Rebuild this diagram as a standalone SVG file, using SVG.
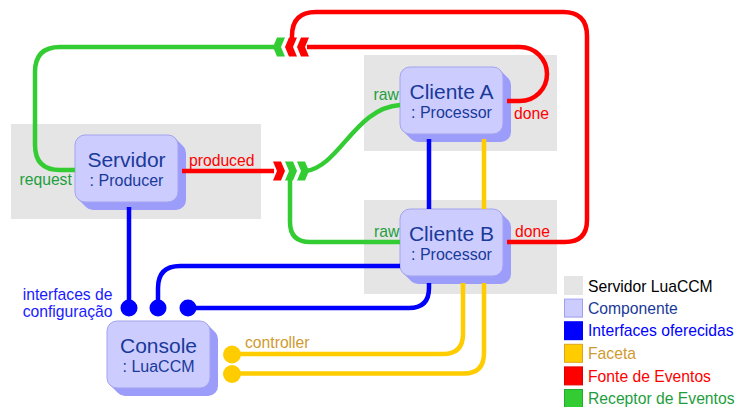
<svg xmlns="http://www.w3.org/2000/svg" xmlns:xlink="http://www.w3.org/1999/xlink" width="737" height="407" viewBox="0 0 737 407">
<style>
text{font-family:"Liberation Sans",Arial,sans-serif}
.region{fill:#e5e5e5}
.front{fill:#ccccff;stroke:#a3a3ef;stroke-width:1}
.shadow{fill:#9c9cfb}
.title{font-size:21px;fill:#1a3a99;text-anchor:middle}
.sub{font-size:16px;fill:#1a3a99;text-anchor:middle}
.lbl{font-size:15.7px}
.c{fill:none;stroke-width:4.5;stroke-linecap:butt;stroke-linejoin:round}
.g{stroke:#33cc33}.r{stroke:#ff0000}.b{stroke:#0000ff}.y{stroke:#ffcc00}
.tg{fill:#1e9e3e}.tr{fill:#ff0000}.tb{fill:#1a1aff}.ty{fill:#d09a30}
</style>
<defs>
<g id="node">
<rect class="shadow" x="2" y="2" width="103" height="67" rx="10"/>
<rect class="shadow" x="4" y="4" width="103" height="67" rx="10"/>
<rect class="shadow" x="6" y="6" width="103" height="67" rx="10"/>
<rect class="shadow" x="8" y="8" width="103" height="67" rx="10"/>
<rect class="front" x="0" y="0" width="103" height="67" rx="10"/>
</g>
<path id="chevR" d="M0,-9.5 L8,-9.5 L12,0 L8,9.5 L0,9.5 L4,0 Z"/>
<path id="chevL" d="M12,-9.5 L4,-9.5 L0,0 L4,9.5 L12,9.5 L8,0 Z"/>
</defs>
<rect width="737" height="407" fill="#ffffff"/>
<g id="regions">
<rect class="region" x="11" y="124" width="250" height="95"/>
<rect class="region" x="364" y="55" width="193" height="96"/>
<rect class="region" x="364" y="200" width="193" height="94"/>
</g>
<g id="servidor">
<use xlink:href="#node" x="75" y="135"/>
<text class="title" x="126.5" y="166.5">Servidor</text>
<text class="sub" x="126.5" y="185.5">: Producer</text>
</g>
<g id="clienteA">
<use xlink:href="#node" x="400" y="67"/>
<text class="title" x="451.5" y="98.5">Cliente A</text>
<text class="sub" x="451.5" y="117.5">: Processor</text>
</g>
<g id="clienteB">
<use xlink:href="#node" x="400" y="209"/>
<text class="title" x="451.5" y="240.5">Cliente B</text>
<text class="sub" x="451.5" y="259.5">: Processor</text>
</g>
<g id="console">
<use xlink:href="#node" x="107" y="321"/>
<text class="title" x="158.5" y="352.5">Console</text>
<text class="sub" x="158.5" y="371.5">: LuaCCM</text>
</g>
<g id="connectors">
<path class="c g" d="M75,170 L60,170 Q35,170 35,145 L35,72 Q35,47 60,47 L274,47"/>
<path class="c r" d="M182,171 L274,171"/>
<path class="c g" d="M306,171 C340,166 355,108 400,105"/>
<path class="c g" d="M290,178 L290,222 Q290,242 310,242 L400,242"/>
<path class="c r" d="M507,101 L520,101 A27,27 0 0 0 520,47 L307,47"/>
<path class="c r" d="M507,242 L565,242 Q587,242 587,220 L587,36 Q587,12 563,12 L316,12 Q292,12 292,36 L292,40"/>
<path class="c b" d="M129,207 L129,308"/>
<path class="c b" d="M158,308 L158,288 Q158,266 180,266 L400,266"/>
<path class="c b" d="M188,308 L409,308 Q429,308 429,288 L429,283"/>
<path class="c b" d="M429,139 L429,209"/>
<path class="c y" d="M484,139 L484,209"/>
<path class="c y" d="M463,283 L463,334 Q463,354 443,354 L232,354"/>
<path class="c y" d="M484,283 L484,353 Q484,373.5 464,373.5 L232,373.5"/>
<use xlink:href="#chevR" x="273" y="171" fill="#ff0000"/>
<use xlink:href="#chevR" x="285" y="171" fill="#33cc33"/>
<use xlink:href="#chevR" x="297" y="171" fill="#33cc33"/>
<use xlink:href="#chevL" x="273" y="47" fill="#33cc33"/>
<use xlink:href="#chevL" x="285" y="47" fill="#ff0000"/>
<use xlink:href="#chevL" x="297" y="47" fill="#ff0000"/>
<circle cx="129" cy="308" r="8.5" fill="#0000ff"/>
<circle cx="158" cy="308" r="8.5" fill="#0000ff"/>
<circle cx="188" cy="308" r="8.5" fill="#0000ff"/>
<circle cx="232" cy="354.5" r="9" fill="#ffcc00"/>
<circle cx="232" cy="374" r="9" fill="#ffcc00"/>
</g>
<g id="labels">
<text class="lbl tg" x="19.5" y="185">request</text>
<text class="lbl tr" x="189" y="165.5">produced</text>
<text class="lbl tg" x="373.5" y="100">raw</text>
<text class="lbl tr" x="514" y="119">done</text>
<text class="lbl tg" x="374" y="236.5">raw</text>
<text class="lbl tr" x="515" y="236.5">done</text>
<text class="lbl tb" x="22.7" y="300">interfaces de</text>
<text class="lbl tb" x="22.7" y="317">configuração</text>
<text class="lbl ty" x="245" y="347.5">controller</text>
</g>
<g id="legend">
<rect x="564" y="276" width="19" height="19" fill="#e5e5e5"/>
<rect x="564.5" y="299.1" width="18" height="18" fill="#ccccff" stroke="#9f9fef"/>
<rect x="564" y="321.2" width="19" height="19" fill="#0000ff"/>
<rect x="564.5" y="344.3" width="18" height="18" fill="#ffcc00" stroke="#d9a520"/>
<rect x="564.5" y="366.9" width="18" height="18" fill="#ff0000" stroke="#e00000"/>
<rect x="564.5" y="389.5" width="18" height="18" fill="#33cc33" stroke="#22aa33"/>
<text class="lbl" x="588" y="291.5" fill="#000000">Servidor LuaCCM</text>
<text class="lbl" x="588" y="313.8" fill="#1a3a99">Componente</text>
<text class="lbl" x="588" y="336.3" fill="#0000ff">Interfaces oferecidas</text>
<text class="lbl" x="588" y="358.8" fill="#d09a30">Faceta</text>
<text class="lbl" x="588" y="381.5" fill="#ff0000">Fonte de Eventos</text>
<text class="lbl" x="588" y="404" fill="#1e9e3e">Receptor de Eventos</text>
</g>
</svg>
